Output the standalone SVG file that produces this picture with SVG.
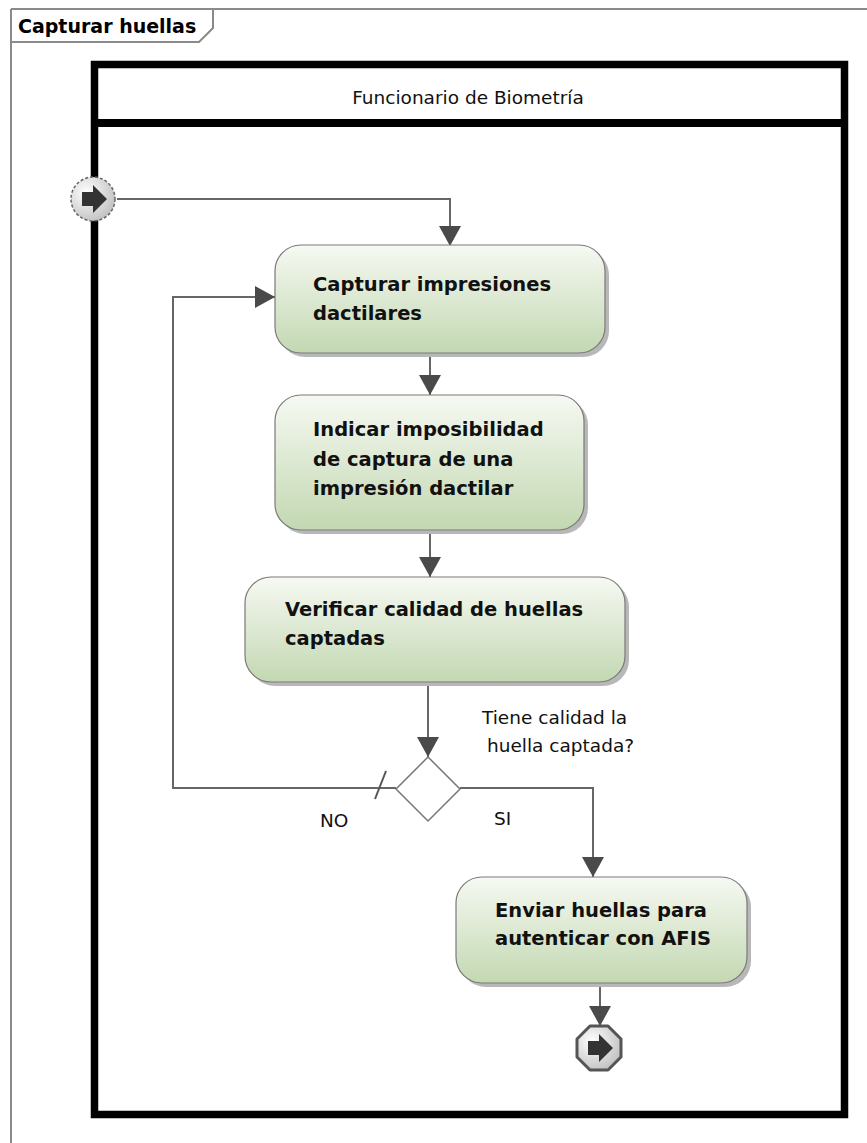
<svg xmlns="http://www.w3.org/2000/svg" width="867" height="1143" viewBox="0 0 867 1143">
<style>
.frame{fill:none;stroke:#8a8a8a;stroke-width:2}
.lane{fill:none;stroke:#000;stroke-width:7.5}
.box{fill:url(#gBox);stroke:#7a7a7a;stroke-width:1.2}
.shadow{fill:#b8b8b8}
.btxt{font-family:"DejaVu Sans",sans-serif;font-weight:bold;font-size:19.5px;fill:#111}
.txt{font-family:"DejaVu Sans",sans-serif;font-size:18.5px;fill:#111}
.edge{fill:none;stroke:#666;stroke-width:2}
.head{fill:#4a4a4a}
</style>
<defs>
<linearGradient id="gBox" x1="0" y1="0" x2="0" y2="1">
<stop offset="0" stop-color="#f6f9f2"/>
<stop offset="1" stop-color="#c3d8b2"/>
</linearGradient>
<radialGradient id="gNode" cx="0.35" cy="0.35" r="0.75">
<stop offset="0" stop-color="#ffffff"/>
<stop offset="1" stop-color="#bdbdbd"/>
</radialGradient>
<marker id="arr" markerUnits="userSpaceOnUse" markerWidth="24" markerHeight="24" viewBox="0 0 24 24" refX="20" refY="12" orient="auto">
<path d="M0,1 L20,12 L0,23 Z" class="head"/>
</marker>
</defs>

<g id="frame">
<path class="frame" d="M11,9 H867 M11,9 V1143 M11,42 H199 L213,28 V9"/>
<text x="18" y="33" font-family="DejaVu Sans, sans-serif" font-weight="bold" font-size="19px" fill="#000">Capturar huellas</text>
</g>

<g id="lane">
<rect class="lane" x="94.5" y="64.5" width="750" height="1050"/>
<line x1="91" y1="123" x2="848" y2="123" stroke="#000" stroke-width="8"/>
<text class="txt" x="468" y="104" text-anchor="middle" font-size="19px">Funcionario de Biometría</text>
</g>

<g id="connectors">
<path class="edge" d="M117,199 H450 V246" marker-end="url(#arr)"/>
<path class="edge" d="M396,788 H173 V297 H275" marker-end="url(#arr)"/>
<path class="edge" d="M430,353 V395" marker-end="url(#arr)"/>
<path class="edge" d="M430,530 V577" marker-end="url(#arr)"/>
<path class="edge" d="M428,682 V757" marker-end="url(#arr)"/>
<path class="edge" d="M460,788 H593 V877" marker-end="url(#arr)"/>
<path class="edge" d="M600,983 V1026" marker-end="url(#arr)"/>
<line x1="375" y1="799" x2="386" y2="771" stroke="#555" stroke-width="2"/>
<text class="txt" x="320" y="827">NO</text>
<text class="txt" x="494" y="825">SI</text>
<text class="txt" x="482" y="724">Tiene calidad la</text>
<text class="txt" x="487" y="752">huella captada?</text>
</g>

<g id="start">
<circle cx="93" cy="199" r="22" fill="url(#gNode)" stroke="#666" stroke-width="1.5" stroke-dasharray="3,2"/>
<path d="M82,192 H93 V185 L107,199 L93,213 V206 H82 Z" fill="#333"/>
</g>

<g id="capturar">
<rect class="shadow" x="279" y="249" width="330" height="108" rx="26"/>
<rect class="box" x="275" y="245" width="330" height="108" rx="26"/>
<text class="btxt" x="313" y="291">Capturar impresiones</text>
<text class="btxt" x="313" y="320">dactilares</text>
</g>

<g id="indicar">
<rect class="shadow" x="279" y="399" width="309" height="135" rx="26"/>
<rect class="box" x="275" y="395" width="309" height="135" rx="26"/>
<text class="btxt" x="313" y="436">Indicar imposibilidad</text>
<text class="btxt" x="313" y="466">de captura de una</text>
<text class="btxt" x="313" y="495">impresión dactilar</text>
</g>

<g id="verificar">
<rect class="shadow" x="249" y="581" width="380" height="105" rx="26"/>
<rect class="box" x="245" y="577" width="380" height="105" rx="26"/>
<text class="btxt" x="285" y="616">Verificar calidad de huellas</text>
<text class="btxt" x="285" y="645">captadas</text>
</g>

<g id="decision">
<path d="M428,757 L460,789 L428,821 L396,789 Z" fill="#fff" stroke="#777" stroke-width="1.5"/>
</g>

<g id="enviar">
<rect class="shadow" x="460" y="881" width="291" height="106" rx="26"/>
<rect class="box" x="456" y="877" width="291" height="106" rx="26"/>
<text class="btxt" x="495" y="917">Enviar huellas para</text>
<text class="btxt" x="495" y="945">autenticar con AFIS</text>
</g>

<g id="end">
<path d="M590,1026 H608 L621,1039 V1057 L608,1070 H590 L577,1057 V1039 Z" fill="url(#gNode)" stroke="#555" stroke-width="3" stroke-linejoin="round"/>
<path d="M588,1041 H599 V1034 L613,1048 L599,1062 V1055 H588 Z" fill="#333"/>
</g>
</svg>
